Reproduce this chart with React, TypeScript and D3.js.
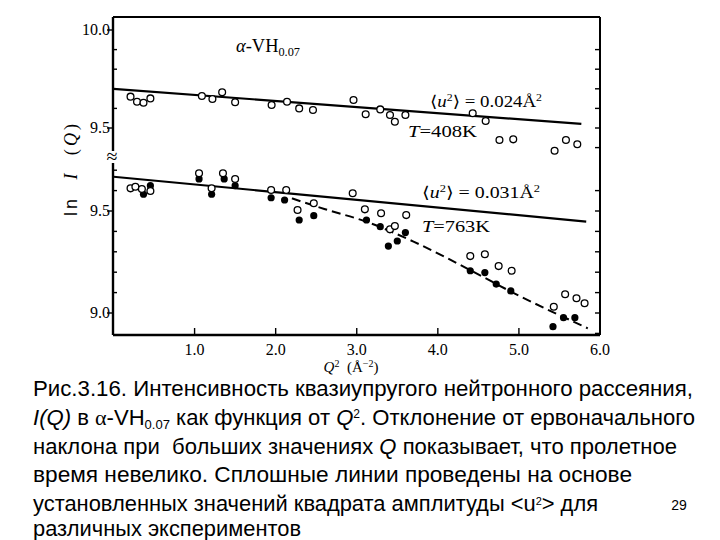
import React from "react";
import * as d3 from "d3";

// ---------- data ----------
const q2Open408 = [0.21, 0.29, 0.37, 0.455, 1.09, 1.22, 1.34, 1.5, 1.95, 2.14, 2.29, 2.46, 2.96, 3.11, 3.29, 3.41, 3.47, 3.6, 4.43, 4.59, 4.76, 4.93, 5.44, 5.58, 5.72];
const lnOpen408 = [9.66, 9.634, 9.629, 9.651, 9.663, 9.648, 9.682, 9.631, 9.617, 9.634, 9.6, 9.592, 9.643, 9.57, 9.595, 9.566, 9.532, 9.566, 9.575, 9.536, 9.439, 9.442, 9.384, 9.439, 9.417];

const q2Open763 = [0.21, 0.27, 0.35, 0.455, 1.055, 1.21, 1.35, 1.5, 1.944, 2.13, 2.27, 2.47, 2.95, 3.1, 3.3, 3.41, 3.47, 3.61, 4.4, 4.58, 4.75, 4.91, 5.43, 5.57, 5.71, 5.81];
const lnOpen763 = [9.611, 9.619, 9.608, 9.598, 9.685, 9.611, 9.685, 9.657, 9.603, 9.603, 9.505, 9.538, 9.587, 9.508, 9.489, 9.41, 9.426, 9.48, 9.279, 9.288, 9.23, 9.207, 9.031, 9.092, 9.072, 9.048];

const q2Filled763 = [0.37, 0.455, 1.055, 1.21, 1.365, 1.5, 1.944, 2.11, 2.29, 2.47, 3.12, 3.29, 3.39, 3.5, 3.6, 4.4, 4.58, 4.72, 4.9, 5.42, 5.55, 5.69];
const lnFilled763 = [9.582, 9.624, 9.657, 9.582, 9.657, 9.624, 9.565, 9.554, 9.456, 9.477, 9.456, 9.423, 9.328, 9.353, 9.394, 9.207, 9.198, 9.142, 9.108, 8.933, 8.977, 8.977];

const fit408Q2 = [0, 5.77];
const fit408Ln = [9.7, 9.521];
const fit763Q2 = [0, 5.83];
const fit763Ln = [9.668, 9.448];
const dashQ2 = [2.2, 2.6, 3.1, 3.7, 4.4, 4.9, 5.85];
const dashLn = [9.562, 9.51, 9.45, 9.35, 9.21, 9.105, 8.925];

const xTicks = [1, 2, 3, 4, 5, 6];
const xTickLabels = ["1.0", "2.0", "3.0", "4.0", "5.0", "6.0"];
const yUpperMajor = [10.0, 9.5];
const yUpperMajorLabels = ["10.0", "9.5"];
const yLowerMajor = [9.5, 9.0];
const yLowerMajorLabels = ["9.5", "9.0"];
const yUpperMinor = [9.6, 9.7, 9.8, 9.9];
const yLowerMinor = [9.1, 9.2, 9.3, 9.4, 9.6, 9.7];
const yUpperRight = [9.4, 9.5, 9.6, 9.7, 9.8, 9.9];
const yLowerRight = [8.9, 9.0, 9.1, 9.2, 9.3, 9.4, 9.5, 9.6];

const captionLines = [
  "Рис.3.16. Интенсивность квазиупругого нейтронного рассеяния,",
  "",
  "наклона при\u00a0 больших значениях ",
  "время невелико. Сплошные линии проведены на основе",
  "установленных значений квадрата амплитуды <u",
  "различных экспериментов",
];

// ---------- layout ----------
const W = 720;
const H = 540;
const L = 113;
const R = 600;
const T = 17;
const B = 335;

const x = d3.scaleLinear().domain([0, 6]).range([113.5, 600]);
const yU = d3.scaleLinear().domain([9.5, 10.0]).range([128, 30]);
const yL = d3.scaleLinear().domain([9.0, 9.5]).range([313, 211]);

const serif = "'Liberation Serif', 'DejaVu Serif', serif";
const sans = "'Liberation Sans', Arial, sans-serif";

export default function App() {
  const zip = (a: number[], b: number[]) => a.map((v, i) => [v, b[i]] as [number, number]);
  const lineU = d3.line<[number, number]>().x((d) => x(d[0])).y((d) => yU(d[1]));
  const lineL = d3.line<[number, number]>().x((d) => x(d[0])).y((d) => yL(d[1]));
  const dashLine = d3
    .line<[number, number]>()
    .x((d) => x(d[0]))
    .y((d) => yL(d[1]))
    .curve(d3.curveMonotoneX);

  const open408 = zip(q2Open408, lnOpen408);
  const open763 = zip(q2Open763, lnOpen763);
  const filled763 = zip(q2Filled763, lnFilled763);

  const capSize = 22;
  const capBase = [396, 425, 454, 482, 511, 536];

  return (
    <svg
      width={W}
      height={H}
      viewBox={`0 0 ${W} ${H}`}
      style={{ position: "absolute", left: 0, top: 0, background: "#fff" }}
    >
      <rect x={0} y={0} width={W} height={H} fill="#fff" />

      {/* frame */}
      <g stroke="#000" fill="none">
        <line x1={L} y1={T} x2={R} y2={T} strokeWidth={2} />
        <line x1={R} y1={T} x2={R} y2={B} strokeWidth={2} />
        <line x1={L} y1={B} x2={R} y2={B} strokeWidth={2.4} />
        <line x1={L} y1={T} x2={L} y2={151} strokeWidth={2.4} />
        <line x1={L} y1={163} x2={L} y2={B} strokeWidth={2.4} />
      </g>
      <text x={L - 1} y={163} textAnchor="middle" fontFamily={serif} fontSize={20} fill="#000">
        ≈
      </text>

      {/* ticks */}
      <g stroke="#000" strokeWidth={1.4}>
        {yUpperMajor.map((v) => (
          <line key={"um" + v} x1={L - 6} x2={L} y1={yU(v)} y2={yU(v)} />
        ))}
        {yLowerMajor.map((v) => (
          <line key={"lm" + v} x1={L - 6} x2={L} y1={yL(v)} y2={yL(v)} />
        ))}
        {yUpperMinor.map((v) => (
          <line key={"un" + v} x1={L} x2={L + 4} y1={yU(v)} y2={yU(v)} />
        ))}
        {yLowerMinor.map((v) => (
          <line key={"ln" + v} x1={L} x2={L + 4} y1={yL(v)} y2={yL(v)} />
        ))}
        {yUpperRight.map((v) => (
          <line key={"ur" + v} x1={R - 5} x2={R} y1={yU(v)} y2={yU(v)} />
        ))}
        {yLowerRight.map((v) => (
          <line key={"lr" + v} x1={R - 5} x2={R} y1={yL(v)} y2={yL(v)} />
        ))}
        {xTicks.map((v) => (
          <line key={"xt" + v} x1={x(v)} x2={x(v)} y1={B} y2={B - 7} />
        ))}
      </g>

      {/* tick labels */}
      <g fontFamily={serif} fontSize={16} fill="#000">
        {yUpperMajor.map((v, i) => (
          <text key={"uml" + v} x={L - 3} y={yU(v) + 5} textAnchor="end">
            {yUpperMajorLabels[i]}
          </text>
        ))}
        {yLowerMajor.map((v, i) => (
          <text key={"lml" + v} x={L - 3} y={yL(v) + 5} textAnchor="end">
            {yLowerMajorLabels[i]}
          </text>
        ))}
        {xTicks.map((v, i) => (
          <text key={"xtl" + v} x={x(v)} y={355} textAnchor="middle">
            {xTickLabels[i]}
          </text>
        ))}
      </g>

      {/* axis titles */}
      <text x={351} y={372} textAnchor="middle" fontFamily={serif} fontSize={15} fill="#000">
        <tspan fontStyle="italic">Q</tspan>
        <tspan fontSize={10} dy={-5}>2</tspan>
        <tspan dy={5}>{"\u00a0\u00a0(Å"}</tspan>
        <tspan fontSize={10} dy={-5}>{"−2"}</tspan>
        <tspan dy={5}>)</tspan>
      </text>
      <text
        transform="translate(77,170) rotate(-90)"
        textAnchor="middle"
        fontFamily={sans}
        fontSize={18}
        fill="#000"
        textLength={92}
        lengthAdjust="spacing"
      >
        <tspan>{"ln\u00a0\u00a0"}</tspan>
        <tspan fontStyle="italic" fontFamily={serif}>I</tspan>
        <tspan fontFamily={serif}>{"\u00a0\u00a0("}</tspan>
        <tspan fontStyle="italic" fontFamily={serif}>Q</tspan>
        <tspan fontFamily={serif}>)</tspan>
      </text>

      {/* fit lines */}
      <path d={lineU(zip(fit408Q2, fit408Ln)) || ""} stroke="#000" strokeWidth={2.2} fill="none" />
      <path d={lineL(zip(fit763Q2, fit763Ln)) || ""} stroke="#000" strokeWidth={2.2} fill="none" />
      <path
        d={dashLine(zip(dashQ2, dashLn)) || ""}
        stroke="#000"
        strokeWidth={2}
        strokeDasharray="9,5"
        fill="none"
      />

      {/* points */}
      <g>
        {filled763.map((d, i) => (
          <circle key={"f" + i} cx={x(d[0])} cy={yL(d[1])} r={3.6} fill="#000" />
        ))}
        {open763.map((d, i) => (
          <circle key={"o7" + i} cx={x(d[0])} cy={yL(d[1])} r={3.4} fill="#fff" stroke="#000" strokeWidth={1.3} />
        ))}
        {open408.map((d, i) => (
          <circle key={"o4" + i} cx={x(d[0])} cy={yU(d[1])} r={3.4} fill="#fff" stroke="#000" strokeWidth={1.3} />
        ))}
      </g>

      {/* annotations */}
      <g fontFamily={serif} fill="#000">
        <text x={236} y={52} fontSize={18} textLength={64} lengthAdjust="spacingAndGlyphs">
          <tspan fontStyle="italic">α</tspan>
          <tspan>-VH</tspan>
          <tspan fontSize={12} dy={4}>0.07</tspan>
        </text>
        <text x={430} y={107} fontSize={16} textLength={112} lengthAdjust="spacingAndGlyphs">
          <tspan>⟨</tspan>
          <tspan fontStyle="italic">u</tspan>
          <tspan fontSize={10} dy={-6}>2</tspan>
          <tspan dy={6}>⟩ = 0.024Å</tspan>
          <tspan fontSize={10} dy={-6}>2</tspan>
        </text>
        <text x={408} y={137} fontSize={17} textLength={69} lengthAdjust="spacingAndGlyphs">
          <tspan fontStyle="italic">T</tspan>
          <tspan>=408K</tspan>
        </text>
        <text x={422} y={198} fontSize={16} textLength={118} lengthAdjust="spacingAndGlyphs">
          <tspan>⟨</tspan>
          <tspan fontStyle="italic">u</tspan>
          <tspan fontSize={10} dy={-6}>2</tspan>
          <tspan dy={6}>⟩ = 0.031Å</tspan>
          <tspan fontSize={10} dy={-6}>2</tspan>
        </text>
        <text x={422} y={232} fontSize={17} textLength={68} lengthAdjust="spacingAndGlyphs">
          <tspan fontStyle="italic">T</tspan>
          <tspan>=763K</tspan>
        </text>
      </g>

      {/* caption */}
      <g fontFamily={sans} fontSize={capSize} fill="#000">
        <text x={33} y={capBase[0]} textLength={660} lengthAdjust="spacingAndGlyphs">
          {captionLines[0]}
        </text>
        <text x={33} y={capBase[1]} textLength={662} lengthAdjust="spacingAndGlyphs">
          <tspan fontStyle="italic">I(Q)</tspan>
          <tspan>{"\u00a0в\u00a0"}</tspan>
          <tspan fontFamily={serif}>α</tspan>
          <tspan>-VH</tspan>
          <tspan fontSize={13} dy={4}>0.07</tspan>
          <tspan dy={-4}>{"\u00a0как функция от\u00a0"}</tspan>
          <tspan fontStyle="italic">Q</tspan>
          <tspan fontSize={12} dy={-7}>2</tspan>
          <tspan dy={7}>. Отклонение от ервоначального</tspan>
        </text>
        <text x={33} y={capBase[2]} textLength={644} lengthAdjust="spacingAndGlyphs">
          <tspan>{captionLines[2]}</tspan>
          <tspan fontStyle="italic">Q</tspan>
          <tspan>{"\u00a0показывает, что пролетное"}</tspan>
        </text>
        <text x={33} y={capBase[3]} textLength={599} lengthAdjust="spacingAndGlyphs">
          {captionLines[3]}
        </text>
        <text x={33} y={capBase[4]} textLength={565} lengthAdjust="spacingAndGlyphs">
          <tspan>{captionLines[4]}</tspan>
          <tspan fontSize={11} dy={-6}>2</tspan>
          <tspan dy={6}>{"> для"}</tspan>
        </text>
        <text x={33} y={capBase[5]} textLength={268} lengthAdjust="spacingAndGlyphs">
          {captionLines[5]}
        </text>
      </g>
      <text x={679} y={510} textAnchor="middle" fontFamily={sans} fontSize={14} fill="#000">
        29
      </text>
    </svg>
  );
}
